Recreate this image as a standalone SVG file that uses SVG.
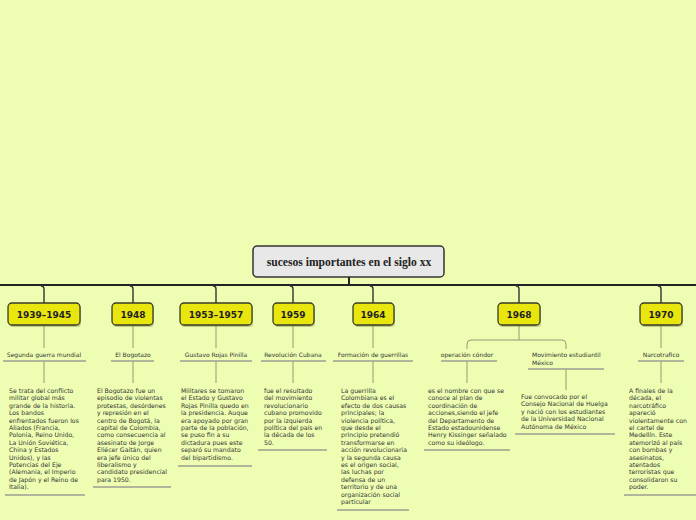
<svg xmlns="http://www.w3.org/2000/svg" width="696" height="520" viewBox="0 0 696 520">
<style>
.bg{fill:#edfeb2}
.title{fill:#e8e8e8;stroke:#333;stroke-width:1.5}
.tt{font-family:"Liberation Serif",serif;font-weight:bold;font-size:11.6px;fill:#222;text-anchor:middle}
.yb{fill:#e9e60e;stroke:#3a3a2a;stroke-width:1.3}
.ys{fill:#8a8a50;opacity:0.45}
.yt{font-family:"DejaVu Sans",sans-serif;font-weight:bold;font-size:9px;fill:#222;text-anchor:middle}
.main{stroke:#222;stroke-width:2;fill:none}
.br{stroke:#333;stroke-width:1.4;fill:none}
.sub{stroke:#949a78;stroke-width:1;fill:none}
.ul{stroke:#9c9c90;stroke-width:1.3;fill:none}
.lb{font-family:"DejaVu Sans",sans-serif;font-size:6px;fill:#333}
.bd{font-family:"DejaVu Sans",sans-serif;font-size:6.2px;fill:#333}
.c{text-anchor:middle}
</style>
<rect class="bg" x="0" y="0" width="696" height="520"/>
<g id="connectors">
<path class="main" d="M0,285 L696,285"/>
<path class="main" d="M349,277 L349,285"/>
<path class="br" d="M41,286 Q44,286 44,289 L44,303"/>
<path class="br" d="M130,286 Q133,286 133,289 L133,303"/>
<path class="br" d="M213,286 Q216,286 216,289 L216,303"/>
<path class="br" d="M290,286 Q293,286 293,289 L293,303"/>
<path class="br" d="M370,286 Q373,286 373,289 L373,303"/>
<path class="br" d="M516,286 Q519,286 519,289 L519,303"/>
<path class="br" d="M658,286 Q661,286 661,289 L661,303"/>
<path class="sub" d="M44,325 L44,348 M44,361 L44,383"/>
<path class="sub" d="M133,325 L133,348 M133,361 L133,383"/>
<path class="sub" d="M216,325 L216,348 M216,361 L216,383"/>
<path class="sub" d="M293,325 L293,348 M293,361 L293,383"/>
<path class="sub" d="M373,325 L373,348 M373,361 L373,383"/>
<path class="sub" d="M519,325 L519,340 M467,349 L467,344 Q467,340 471,340 L562,340 Q566,340 566,344 L566,349"/>
<path class="sub" d="M467,361 L467,383"/>
<path class="sub" d="M566,369 L566,390"/>
<path class="sub" d="M661,325 L661,348 M661,361 L661,383"/>
</g>
<g id="root">
<rect class="title" x="253" y="246" width="191" height="31" rx="4"/>
<text class="tt" x="349" y="266">sucesos importantes en el siglo xx</text>
</g>
<g id="y1939">
<rect class="ys" x="9" y="305" width="72" height="22" rx="4"/>
<rect class="yb" x="8" y="303" width="72" height="22" rx="4"/>
<text class="yt" x="44" y="318">1939–1945</text>
</g>
<g id="y1948">
<rect class="ys" x="113" y="305" width="41" height="22" rx="4"/>
<rect class="yb" x="112" y="303" width="41" height="22" rx="4"/>
<text class="yt" x="133" y="318">1948</text>
</g>
<g id="y1953">
<rect class="ys" x="181" y="305" width="72" height="22" rx="4"/>
<rect class="yb" x="180" y="303" width="72" height="22" rx="4"/>
<text class="yt" x="216" y="318">1953–1957</text>
</g>
<g id="y1959">
<rect class="ys" x="274" y="305" width="41" height="22" rx="4"/>
<rect class="yb" x="273" y="303" width="41" height="22" rx="4"/>
<text class="yt" x="293" y="318">1959</text>
</g>
<g id="y1964">
<rect class="ys" x="354" y="305" width="41" height="22" rx="4"/>
<rect class="yb" x="353" y="303" width="41" height="22" rx="4"/>
<text class="yt" x="373" y="318">1964</text>
</g>
<g id="y1968">
<rect class="ys" x="499" y="305" width="42" height="22" rx="4"/>
<rect class="yb" x="498" y="303" width="42" height="22" rx="4"/>
<text class="yt" x="519" y="318">1968</text>
</g>
<g id="y1970">
<rect class="ys" x="641" y="305" width="42" height="22" rx="4"/>
<rect class="yb" x="640" y="303" width="42" height="22" rx="4"/>
<text class="yt" x="661" y="318">1970</text>
</g>
<g id="segunda-guerra">
<text class="lb c" x="44" y="357">Segunda guerra mundial</text>
<path class="ul" d="M3,361 L86,361"/>
<text class="bd" x="9" y="393"><tspan x="9">Se trata del conflicto</tspan><tspan x="9" dy="7.4">militar global más</tspan><tspan x="9" dy="7.4">grande de la historia.</tspan><tspan x="9" dy="7.4">Los bandos</tspan><tspan x="9" dy="7.4">enfrentados fueron los</tspan><tspan x="9" dy="7.4">Aliados (Francia,</tspan><tspan x="9" dy="7.4">Polonia, Reino Unido,</tspan><tspan x="9" dy="7.4">La Unión Soviética,</tspan><tspan x="9" dy="7.4">China y Estados</tspan><tspan x="9" dy="7.4">Unidos), y las</tspan><tspan x="9" dy="7.4">Potencias del Eje</tspan><tspan x="9" dy="7.4">(Alemania, el Imperio</tspan><tspan x="9" dy="7.4">de Japón y el Reino de</tspan><tspan x="9" dy="7.4">Italia).</tspan></text>
<path class="ul" d="M5,495 L85,495"/>
</g>
<g id="bogotazo">
<text class="lb c" x="133" y="357">El Bogotazo</text>
<path class="ul" d="M111,361 L154,361"/>
<text class="bd" x="97" y="393"><tspan x="97">El Bogotazo fue un</tspan><tspan x="97" dy="7.4">episodio de violentas</tspan><tspan x="97" dy="7.4">protestas, desórdenes</tspan><tspan x="97" dy="7.4">y represión en el</tspan><tspan x="97" dy="7.4">centro de Bogotá, la</tspan><tspan x="97" dy="7.4">capital de Colombia,</tspan><tspan x="97" dy="7.4">como consecuencia al</tspan><tspan x="97" dy="7.4">asesinato de Jorge</tspan><tspan x="97" dy="7.4">Eliécer Gaitán, quien</tspan><tspan x="97" dy="7.4">era jefe único del</tspan><tspan x="97" dy="7.4">liberalismo y</tspan><tspan x="97" dy="7.4">candidato presidencial</tspan><tspan x="97" dy="7.4">para 1950.</tspan></text>
<path class="ul" d="M93,487 L171,487"/>
</g>
<g id="rojas-pinilla">
<text class="lb c" x="216" y="357">Gustavo Rojas Pinilla</text>
<path class="ul" d="M180,361 L252,361"/>
<text class="bd" x="181" y="393"><tspan x="181">Militares se tomaron</tspan><tspan x="181" dy="7.4">el Estado y Gustavo</tspan><tspan x="181" dy="7.4">Rojas Pinilla quedo en</tspan><tspan x="181" dy="7.4">la presidencia. Auque</tspan><tspan x="181" dy="7.4">era apoyado por gran</tspan><tspan x="181" dy="7.4">parte de la población,</tspan><tspan x="181" dy="7.4">se puso fin a su</tspan><tspan x="181" dy="7.4">dictadura pues este</tspan><tspan x="181" dy="7.4">separó su mandato</tspan><tspan x="181" dy="7.4">del bipartidismo.</tspan></text>
<path class="ul" d="M178,466 L252,466"/>
</g>
<g id="revolucion-cubana">
<text class="lb c" x="293" y="357">Revolución Cubana</text>
<path class="ul" d="M261,361 L326,361"/>
<text class="bd" x="264" y="393"><tspan x="264">fue el resultado</tspan><tspan x="264" dy="7.4">del movimiento</tspan><tspan x="264" dy="7.4">revolucionario</tspan><tspan x="264" dy="7.4">cubano promovido</tspan><tspan x="264" dy="7.4">por la izquierda</tspan><tspan x="264" dy="7.4">política del país en</tspan><tspan x="264" dy="7.4">la década de los</tspan><tspan x="264" dy="7.4">50.</tspan></text>
<path class="ul" d="M258,450 L327,450"/>
</g>
<g id="guerrillas">
<text class="lb c" x="373" y="357">Formación de guerrillas</text>
<path class="ul" d="M333,361 L413,361"/>
<text class="bd" x="341" y="393"><tspan x="341">La guerrilla</tspan><tspan x="341" dy="7.4">Colombiana es el</tspan><tspan x="341" dy="7.4">efecto de dos causas</tspan><tspan x="341" dy="7.4">principales; la</tspan><tspan x="341" dy="7.4">violencia política,</tspan><tspan x="341" dy="7.4">que desde el</tspan><tspan x="341" dy="7.4">principio pretendió</tspan><tspan x="341" dy="7.4">transformarse en</tspan><tspan x="341" dy="7.4">acción revolucionaria</tspan><tspan x="341" dy="7.4">y la segunda causa</tspan><tspan x="341" dy="7.4">es el origen social,</tspan><tspan x="341" dy="7.4">las luchas por</tspan><tspan x="341" dy="7.4">defensa de un</tspan><tspan x="341" dy="7.4">territorio y de una</tspan><tspan x="341" dy="7.4">organización social</tspan><tspan x="341" dy="7.4">particular</tspan></text>
<path class="ul" d="M337,510 L409,510"/>
</g>
<g id="condor">
<text class="lb c" x="467" y="357">operación cóndor</text>
<path class="ul" d="M441,361 L497,361"/>
<text class="bd" x="428" y="393"><tspan x="428">es el nombre con que se</tspan><tspan x="428" dy="7.4">conoce al plan de</tspan><tspan x="428" dy="7.4">coordinación de</tspan><tspan x="428" dy="7.4">acciones,siendo el jefe</tspan><tspan x="428" dy="7.4">del Departamento de</tspan><tspan x="428" dy="7.4">Estado estadounidense</tspan><tspan x="428" dy="7.4">Henry Kissinger señalado</tspan><tspan x="428" dy="7.4">como su ideólogo.</tspan></text>
<path class="ul" d="M424,450 L510,450"/>
</g>
<g id="movimiento-estudiantil">
<text class="lb" x="532" y="357"><tspan x="532">Movimiento estudiantil</tspan><tspan x="532" dy="8">México</tspan></text>
<path class="ul" d="M528,369 L604,369"/>
<text class="bd" x="521" y="399"><tspan x="521">Fue convocado por el</tspan><tspan x="521" dy="7.4">Consejo Nacional de Huelga</tspan><tspan x="521" dy="7.4">y nació con los estudiantes</tspan><tspan x="521" dy="7.4">de la Universidad Nacional</tspan><tspan x="521" dy="7.4">Autónoma de México</tspan></text>
<path class="ul" d="M515,434 L615,434"/>
</g>
<g id="narcotrafico">
<text class="lb c" x="661" y="357">Narcotrafico</text>
<path class="ul" d="M638,361 L684,361"/>
<text class="bd" x="629" y="393"><tspan x="629">A finales de la</tspan><tspan x="629" dy="7.4">década, el</tspan><tspan x="629" dy="7.4">narcotráfico</tspan><tspan x="629" dy="7.4">apareció</tspan><tspan x="629" dy="7.4">violentamente con</tspan><tspan x="629" dy="7.4">el cartel de</tspan><tspan x="629" dy="7.4">Medellín. Este</tspan><tspan x="629" dy="7.4">atemorizó al país</tspan><tspan x="629" dy="7.4">con bombas y</tspan><tspan x="629" dy="7.4">asesinatos,</tspan><tspan x="629" dy="7.4">atentados</tspan><tspan x="629" dy="7.4">terroristas que</tspan><tspan x="629" dy="7.4">consolidaron su</tspan><tspan x="629" dy="7.4">poder.</tspan></text>
<path class="ul" d="M624,495 L696,495"/>
</g>
</svg>
